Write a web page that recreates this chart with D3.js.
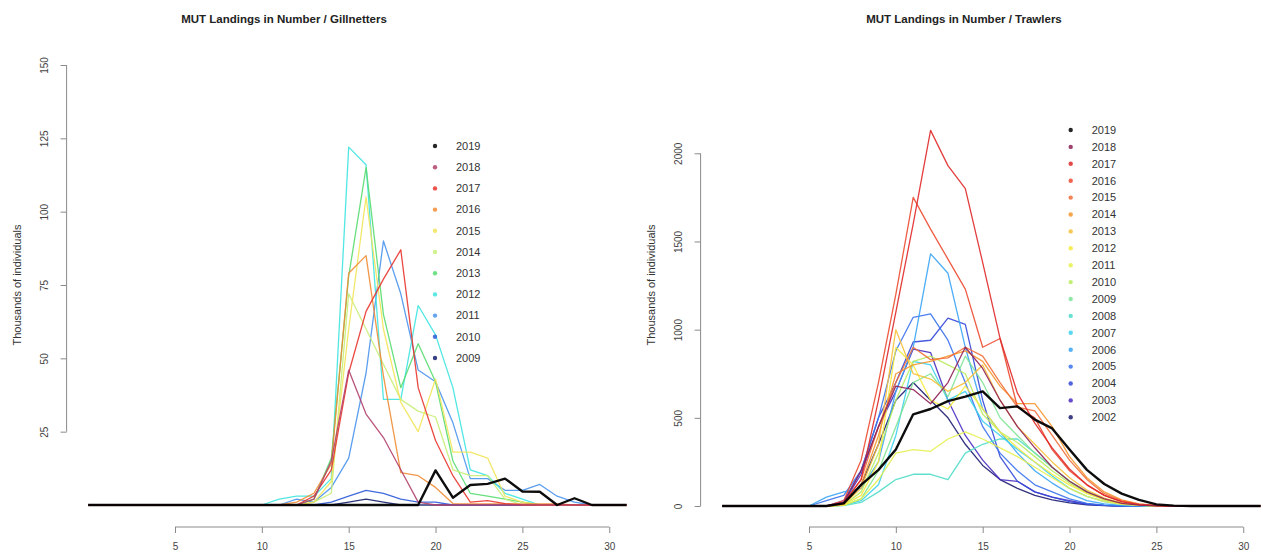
<!DOCTYPE html>
<html><head><meta charset="utf-8">
<script src="https://cdn.jsdelivr.net/npm/d3@7"></script>
<style>body{margin:0;background:#fff}svg{display:block}text{font-family:"Liberation Sans",Arial,sans-serif}</style>
</head><body>
<svg id="chart" width="1263" height="554"></svg>
<script>
// ---------- DATA ----------
const lengths = [0,1,2,3,4,5,6,7,8,9,10,11,12,13,14,15,16,17,18,19,20,21,22,23,24,25,26,27,28,29,30,31];
const xTicks = [5,10,15,20,25,30];

// Gillnetters (thousands of individuals)
const gYears = ["2019","2018","2017","2016","2015","2014","2013","2012","2011","2010","2009"];
const gColors = ["#000000","#b0406a","#e8352d","#f08c34","#f2e45a","#c8ee78","#58dc70","#3fe4e0","#4a94ec","#2c5ad8","#14206e"];
const gYTicks = [25,50,75,100,125,150];
const g2019 = [0,0,0,0,0,0,0,0,0,0, 0,0,0,0,0,0,0,0,0,0, 11.8,2.5,6.8,7.2,9,4.6,4.5,0,2.3,0, 0,0];
const g2018 = [0,0,0,0,0,0,0,0,0,0, 0,0,0,2,15,46,31,23,12,1, 0,0,0,0,0,0,0,0,0,0, 0,0];
const g2017 = [0,0,0,0,0,0,0,0,0,0, 0,0,0,3,12,45,66,77,87,40, 22,10,1,1.5,0.5,0,0,0,0,0, 0,0];
const g2016 = [0,0,0,0,0,0,0,0,0,0, 0,0,1,4,14,79,85,44,11,10, 6,0.5,0.4,0.4,0.4,0.4,0.4,0.4,0,0, 0,0];
const g2015 = [0,0,0,0,0,0,0,0,0,0, 0,0,0,1,8,60,105,60,35,25, 43,18,18,16,3,1,0,0,0,0, 0,0];
const g2014 = [0,0,0,0,0,0,0,0,0,0, 0,0,0,1,4,72,60,48,36,32, 30,12,10,10,2,0,0,0,0,0, 0,0];
const g2013 = [0,0,0,0,0,0,0,0,0,0, 0,0,0,2,16,78,115,65,40,55, 42,15,4,3,2,1,0,0,0,0, 0,0];
const g2012 = [0,0,0,0,0,0,0,0,0,0, 0,2,3,3,9,122,116,36,36,68, 58,40,12,10,4,2,0,0,0,0, 0,0];
const g2011 = [0,0,0,0,0,0,0,0,0,0, 0,0,2,1,6,16,45,90,72,46, 42,28,9,9,5,5,7,3,1,0, 0,0];
const g2010 = [0,0,0,0,0,0,0,0,0,0, 0,0,0,0,1,3,5,4,2,1, 1,0,0,0,0,0,0,0,0,0, 0,0];
const g2009 = [0,0,0,0,0,0,0,0,0,0, 0,0,0,0,0,1,2,1,0,0, 0,0,0,0,0,0,0,0,0,0, 0,0];
const gSeries = [g2019,g2018,g2017,g2016,g2015,g2014,g2013,g2012,g2011,g2010,g2009];

// Trawlers (thousands of individuals)
const tYears = ["2019","2018","2017","2016","2015","2014","2013","2012","2011","2010","2009","2008","2007","2006","2005","2004","2003","2002"];
const tColors = ["#000000","#8e2056","#e02828","#ec4a30","#f26e3a","#f5962e","#f7c03a","#f5ea40","#e6f050","#b8ec60","#7ee496","#50dcc8","#3cd0ee","#3aa4f4","#3a72ec","#3448d8","#4a2cc0","#1c1c72"];
const tYTicks = [0,500,1000,1500,2000];
const t2019 = [0,0,0,0,0,0,0,15,120,205, 320,520,550,595,620,650,555,565,490,440, 320,205,125,70,35,9,2,0,0,0, 0,0];
const t2018 = [0,0,0,0,0,0,0,20,200,450, 680,660,580,700,900,780,600,450,330,220, 140,80,40,15,5,1,0,0,0,0, 0,0];
const t2017 = [0,0,0,0,0,0,0,20,150,600, 1100,1600,2130,1930,1800,1380,950,640,470,330, 210,120,60,25,8,2,0,0,0,0, 0,0];
const t2016 = [0,0,0,0,0,0,0,30,260,700, 1200,1750,1570,1400,1230,900,950,560,500,320, 200,120,60,25,8,2,0,0,0,0, 0,0];
const t2015 = [0,0,0,0,0,0,0,15,150,450, 700,900,830,840,900,850,700,560,540,400, 260,150,70,30,10,2,0,0,0,0, 0,0];
const t2014 = [0,0,0,0,0,0,0,10,120,400, 750,800,820,850,880,820,680,580,580,450, 280,160,80,35,12,3,0,0,0,0, 0,0];
const t2013 = [0,0,0,0,0,0,0,10,100,350, 1000,750,720,650,700,800,600,450,350,250, 160,90,45,18,6,1,0,0,0,0, 0,0];
const t2012 = [0,0,0,0,0,0,0,5,60,250, 900,800,600,550,680,550,420,330,250,180, 120,70,35,14,5,1,0,0,0,0, 0,0];
const t2011 = [0,0,0,0,0,0,0,3,40,150, 300,320,310,380,420,380,330,280,220,160, 100,55,25,10,3,0,0,0,0,0, 0,0];
const t2010 = [0,0,0,0,0,0,0,5,80,300, 600,820,850,800,750,520,420,360,280,200, 130,75,35,14,5,1,0,0,0,0, 0,0];
const t2009 = [0,0,0,0,0,0,0,3,40,200, 450,700,750,620,850,700,500,400,300,220, 140,80,40,15,5,0,0,0,0,0, 0,0];
const t2008 = [0,0,0,0,0,0,0,2,20,80, 150,180,180,150,300,350,380,380,300,220, 140,80,35,12,4,0,0,0,0,0, 0,0];
const t2007 = [0,0,0,0,0,0,0,5,30,120, 400,820,800,600,650,480,400,320,250,170, 100,55,25,10,3,0,0,0,0,0, 0,0];
const t2006 = [0,0,0,0,0,0,50,80,100,250, 650,900,1430,1320,900,550,420,300,200,130, 70,30,12,4,0,0,0,0,0,0, 0,0];
const t2005 = [0,0,0,0,0,0,30,60,200,500, 880,1070,1090,940,700,450,300,200,120,80, 40,15,5,0,0,0,0,0,0,0, 0,0];
const t2004 = [0,0,0,0,0,0,0,30,200,500, 700,930,940,1065,1030,600,280,140,80,50, 25,10,3,0,0,0,0,0,0,0, 0,0];
const t2003 = [0,0,0,0,0,0,0,20,180,450, 650,890,870,600,400,260,150,140,80,50, 30,12,4,0,0,0,0,0,0,0, 0,0];
const t2002 = [0,0,0,0,0,0,0,15,120,350, 600,700,600,500,350,230,150,100,60,35, 18,7,2,0,0,0,0,0,0,0, 0,0];
const tSeries = [t2019,t2018,t2017,t2016,t2015,t2014,t2013,t2012,t2011,t2010,t2009,t2008,t2007,t2006,t2005,t2004,t2003,t2002];

// ---------- DRAW ----------
const svg = d3.select("#chart");
svg.append("rect").attr("width",1263).attr("height",554).attr("fill","#fff");
const FONT = "'Liberation Sans',Arial,sans-serif";
const AX = "#8a8a8a";

function panel(cfg){
  const g = svg.append("g");
  const x = d3.scaleLinear().domain([-1.24,32.24]).range([cfg.left, cfg.left + 33.48*17.37]);
  const y = d3.scaleLinear().domain([0, cfg.yRefVal]).range([cfg.y0, cfg.yRef]);
  const xl = x(-1.24);

  // title
  g.append("text").attr("x",cfg.titleX).attr("y",23).attr("text-anchor","middle")
    .attr("font-size","11.5px").attr("font-weight","bold").attr("fill","#222").text(cfg.title);

  // y axis (line spans first to last tick, like R)
  const yAxis = d3.axisLeft(y).tickValues(cfg.yTicks).tickSize(6).tickSizeOuter(0).tickFormat(d3.format("d"));
  const ya = g.append("g").attr("transform",`translate(${xl},0)`).call(yAxis);
  ya.select(".domain").remove();
  ya.append("line").attr("x1",0).attr("x2",0)
    .attr("y1",y(cfg.yTicks[0])).attr("y2",y(cfg.yTicks[cfg.yTicks.length-1])).attr("stroke",AX);
  ya.selectAll(".tick line").attr("stroke",AX);
  ya.selectAll(".tick text").attr("x",null).attr("dy","0.35em").attr("text-anchor","middle")
    .attr("transform","translate(-22,0) rotate(-90)")
    .attr("font-size","10px").attr("fill","#444").style("font-family",FONT);

  g.append("text").attr("transform",`translate(${xl-49},285) rotate(-90)`)
    .attr("text-anchor","middle").attr("dy","0.35em").attr("font-size","11px").attr("fill","#333")
    .text("Thousands of individuals");

  // x axis
  const xAxis = d3.axisBottom(x).tickValues(xTicks).tickSize(6).tickSizeOuter(0).tickFormat(d3.format("d"));
  const xa = g.append("g").attr("transform","translate(0,527)").call(xAxis);
  xa.select(".domain").remove();
  xa.append("line").attr("y1",0).attr("y2",0)
    .attr("x1",x(xTicks[0])).attr("x2",x(xTicks[xTicks.length-1])).attr("stroke",AX);
  xa.selectAll(".tick line").attr("stroke",AX);
  xa.selectAll(".tick text").attr("y",16).attr("font-size","10px").attr("fill","#444")
    .style("font-family",FONT);

  // lines (oldest first, newest on top)
  const line = d3.line().x((d,i)=>x(lengths[i])).y(d=>y(d));
  for (let k = cfg.series.length-1; k >= 0; k--){
    g.append("path").datum(cfg.series[k]).attr("d",line).attr("fill","none")
      .attr("stroke",cfg.colors[k]).attr("stroke-width", k===0 ? 2.4 : 1.3)
      .attr("stroke-linejoin","round").attr("stroke-opacity", k===0 ? 0.95 : 0.9);
  }

  // legend
  const lg = g.append("g");
  cfg.years.forEach((yr,i)=>{
    const yy = cfg.legY0 + i*cfg.legStep;
    lg.append("circle").attr("cx",cfg.legX).attr("cy",yy).attr("r",2.2).attr("fill",cfg.colors[i]).attr("opacity",0.85);
    lg.append("text").attr("x",cfg.legX+21).attr("y",yy).attr("dy","0.35em").attr("font-size","11px").attr("fill","#333").text(yr);
  });
}

panel({title:"MUT Landings in Number / Gillnetters", titleX:284, left:66.6, y0:505, yRef:65, yRefVal:150,
  yTicks:gYTicks, series:gSeries, colors:gColors, years:gYears, legX:435, legY0:146, legStep:21.2});
panel({title:"MUT Landings in Number / Trawlers", titleX:964, left:700.6, y0:506, yRef:153.3, yRefVal:2000,
  yTicks:tYTicks, series:tSeries, colors:tColors, years:tYears, legX:1070.7, legY0:130, legStep:16.9});
</script>
</body></html>
